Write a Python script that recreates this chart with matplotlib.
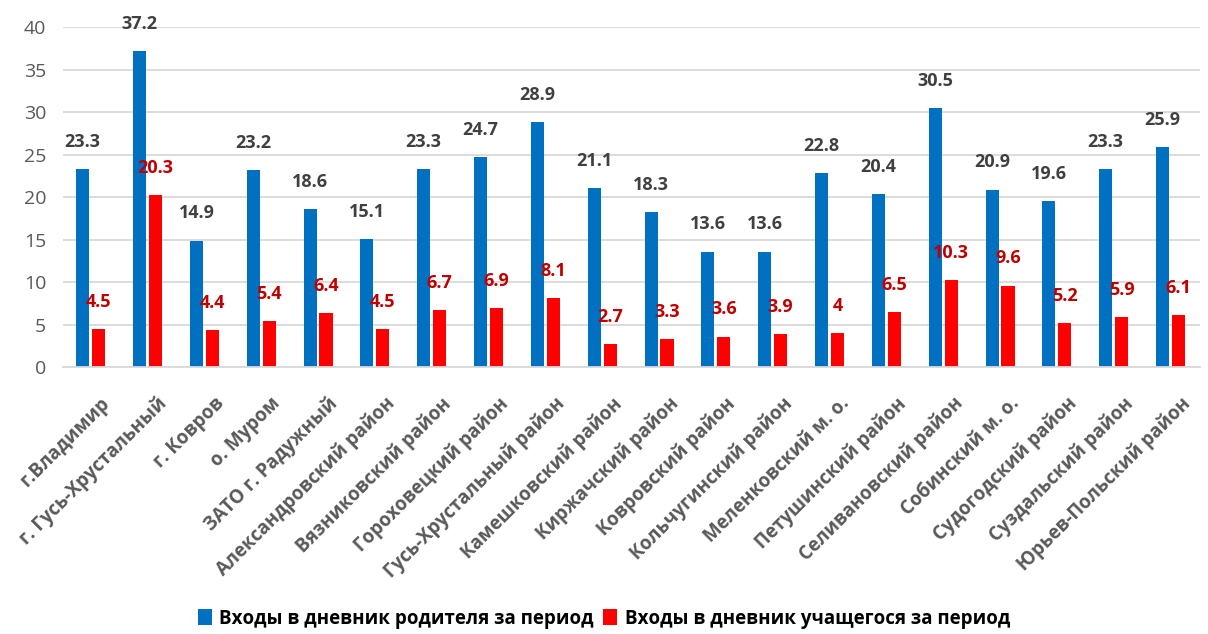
import matplotlib.pyplot as plt
import matplotlib.transforms as mtransforms
import numpy as np

plt.rcParams['font.family'] = ['Open Sans', 'DejaVu Sans']

categories = [
    "г.Владимир", "г. Гусь-Хрустальный", "г. Ковров", "о. Муром",
    "ЗАТО г. Радужный", "Александровский район", "Вязниковский район",
    "Гороховецкий район", "Гусь-Хрустальный район", "Камешковский район",
    "Киржачский район", "Ковровский район", "Кольчугинский район",
    "Меленковский м. о.", "Петушинский район", "Селивановский район",
    "Собинский м. о.", "Судогодский район", "Суздальский район",
    "Юрьев-Польский район",
]
parents = [23.3, 37.2, 14.9, 23.2, 18.6, 15.1, 23.3, 24.7, 28.9, 21.1,
           18.3, 13.6, 13.6, 22.8, 20.4, 30.5, 20.9, 19.6, 23.3, 25.9]
students = [4.5, 20.3, 4.4, 5.4, 6.4, 4.5, 6.7, 6.9, 8.1, 2.7,
            3.3, 3.6, 3.9, 4, 6.5, 10.3, 9.6, 5.2, 5.9, 6.1]
labels_parents = "Входы в дневник родителя за период"
labels_students = "Входы в дневник учащегося за период"

fig = plt.figure(figsize=(12.08, 6.34), dpi=100)
ax = fig.add_axes([0.052, 0.421, 0.941, 0.536])

x = np.arange(len(categories))
w = 0.23
off_p, off_s = -0.15, 0.13
ax.bar(x + off_p, parents, w, color="#0070C0", label=labels_parents, zorder=2)
ax.bar(x + off_s, students, w, color="#FF0000", label=labels_students, zorder=2)

for xi, p, s in zip(x, parents, students):
    ax.annotate(f"{p:g}", (xi + off_p, p), xytext=(0, 13), textcoords="offset points",
                ha="center", va="bottom", fontsize=13, fontweight="bold", color="#404040")
    ax.annotate(f"{s:g}", (xi + off_s, s), xytext=(0, 13), textcoords="offset points",
                ha="center", va="bottom", fontsize=13, fontweight="bold", color="#C00000")

ax.set_xlim(-0.5, len(categories) - 0.5)
ax.set_ylim(0, 40)
ax.set_yticks(range(0, 41, 5))
ax.yaxis.grid(True, color="#D9D9D9", linewidth=1.3, zorder=0)
ax.set_axisbelow(True)
for sp in ["top", "right", "left"]:
    ax.spines[sp].set_visible(False)
ax.spines["bottom"].set_color("#D9D9D9")
ax.spines["bottom"].set_linewidth(1.3)
ax.tick_params(axis="both", length=0)
ax.tick_params(axis="y", labelsize=14, labelcolor="#595959", pad=12)
ax.set_xticks(x)
ax.set_xticklabels(categories, rotation=45, ha="right", va="top", rotation_mode="anchor",
                   fontsize=13.5, fontweight="bold", color="#595959")
ax.tick_params(axis="x", pad=19)
shift = mtransforms.ScaledTranslation(9 / 100, 0, fig.dpi_scale_trans)
for lbl in ax.get_xticklabels():
    lbl.set_transform(lbl.get_transform() + shift)

fig.legend(loc="lower center", bbox_to_anchor=(0.5, -0.018), ncol=2, frameon=False,
           prop={"size": 13.5, "weight": "bold"}, handlelength=0.75, handleheight=0.9,
           handletextpad=0.4, columnspacing=0.5)

fig.savefig("out.png", dpi=100)
